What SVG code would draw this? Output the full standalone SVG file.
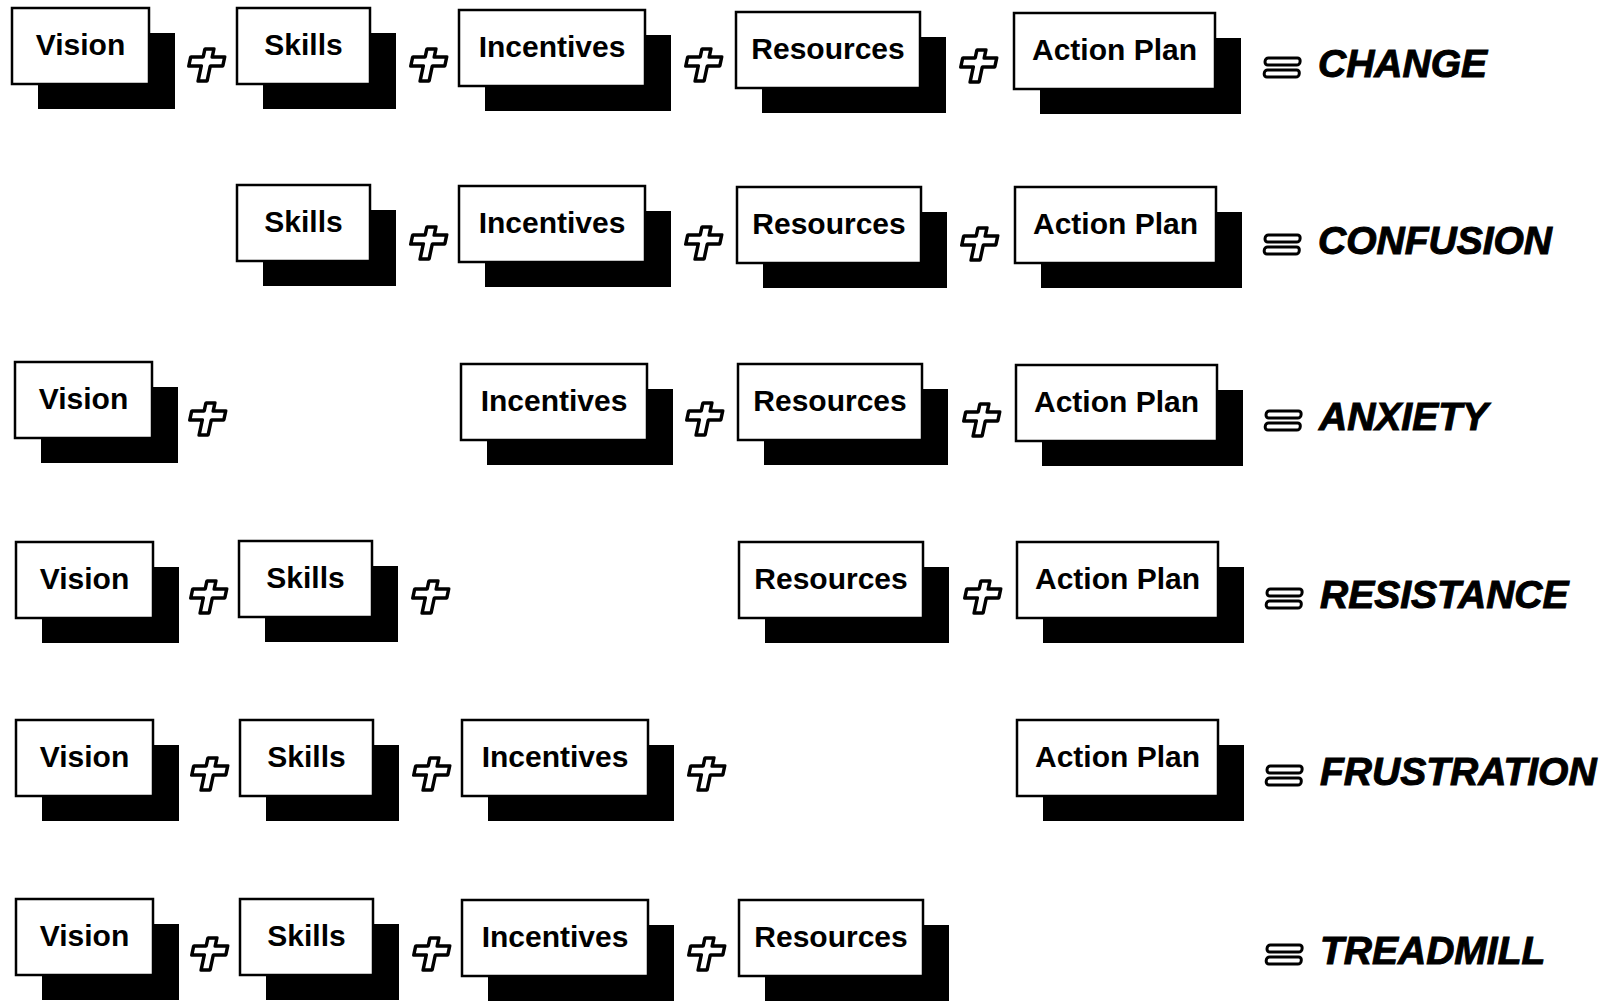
<svg xmlns="http://www.w3.org/2000/svg" width="1614" height="1002" viewBox="0 0 1614 1002">
<style>
.bg{fill:#fff}
.shadow{fill:#000}
.box{fill:#fff;stroke:#000;stroke-width:2.5}
.lbl{font-family:"Liberation Sans",Arial,sans-serif;font-weight:bold;font-size:30px;fill:#000;text-anchor:middle}
.res{font-family:"Liberation Sans",Arial,sans-serif;font-weight:bold;font-style:italic;font-size:39px;fill:#000;stroke:#000;stroke-width:1}
.op{fill:#fff;stroke:#000;stroke-width:3.5;stroke-linejoin:round}
.eq{fill:#fff;stroke:#000;stroke-width:3}
</style>
<defs>
<path id="plus" class="op" transform="skewX(-12)" d="M -4.5 -16 H 4.5 V -8 H 17 V 1 H 4.5 V 16 H -4.5 V 1 H -17 V -8 H -4.5 Z"/>
<g id="equals" transform="skewX(-4)">
<rect class="eq" x="0" y="-19" width="35" height="7" rx="3"/>
<rect class="eq" x="0" y="-7" width="35" height="7" rx="3"/>
</g>
</defs>
<rect class="bg" width="1614" height="1002"/>

<!-- Row 1 -->
<g id="r1-vision" transform="translate(12,8)"><rect class="shadow" x="26" y="25" width="137" height="76"/><rect class="box" width="137" height="76"/><text class="lbl" x="68.5" y="47">Vision</text></g>
<g id="r1-skills" transform="translate(237,8)"><rect class="shadow" x="26" y="25" width="133" height="76"/><rect class="box" width="133" height="76"/><text class="lbl" x="66.5" y="47">Skills</text></g>
<g id="r1-incentives" transform="translate(459,10)"><rect class="shadow" x="26" y="25" width="186" height="76"/><rect class="box" width="186" height="76"/><text class="lbl" x="93" y="47">Incentives</text></g>
<g id="r1-resources" transform="translate(736,12)"><rect class="shadow" x="26" y="25" width="184" height="76"/><rect class="box" width="184" height="76"/><text class="lbl" x="92" y="47">Resources</text></g>
<g id="r1-action" transform="translate(1014,13)"><rect class="shadow" x="26" y="25" width="201" height="76"/><rect class="box" width="201" height="76"/><text class="lbl" x="100.5" y="47">Action Plan</text></g>
<g id="r1-result"><use href="#equals" x="1264" y="77"/><text class="res" x="1318" y="77">CHANGE</text></g>

<!-- Row 2 -->
<g id="r2-skills" transform="translate(237,185)"><rect class="shadow" x="26" y="25" width="133" height="76"/><rect class="box" width="133" height="76"/><text class="lbl" x="66.5" y="47">Skills</text></g>
<g id="r2-incentives" transform="translate(459,186)"><rect class="shadow" x="26" y="25" width="186" height="76"/><rect class="box" width="186" height="76"/><text class="lbl" x="93" y="47">Incentives</text></g>
<g id="r2-resources" transform="translate(737,187)"><rect class="shadow" x="26" y="25" width="184" height="76"/><rect class="box" width="184" height="76"/><text class="lbl" x="92" y="47">Resources</text></g>
<g id="r2-action" transform="translate(1015,187)"><rect class="shadow" x="26" y="25" width="201" height="76"/><rect class="box" width="201" height="76"/><text class="lbl" x="100.5" y="47">Action Plan</text></g>
<g id="r2-result"><use href="#equals" x="1264" y="254"/><text class="res" x="1318" y="254">CONFUSION</text></g>

<!-- Row 3 -->
<g id="r3-vision" transform="translate(15,362)"><rect class="shadow" x="26" y="25" width="137" height="76"/><rect class="box" width="137" height="76"/><text class="lbl" x="68.5" y="47">Vision</text></g>
<g id="r3-incentives" transform="translate(461,364)"><rect class="shadow" x="26" y="25" width="186" height="76"/><rect class="box" width="186" height="76"/><text class="lbl" x="93" y="47">Incentives</text></g>
<g id="r3-resources" transform="translate(738,364)"><rect class="shadow" x="26" y="25" width="184" height="76"/><rect class="box" width="184" height="76"/><text class="lbl" x="92" y="47">Resources</text></g>
<g id="r3-action" transform="translate(1016,365)"><rect class="shadow" x="26" y="25" width="201" height="76"/><rect class="box" width="201" height="76"/><text class="lbl" x="100.5" y="47">Action Plan</text></g>
<g id="r3-result"><use href="#equals" x="1265" y="430"/><text class="res" x="1319" y="430">ANXIETY</text></g>

<!-- Row 4 -->
<g id="r4-vision" transform="translate(16,542)"><rect class="shadow" x="26" y="25" width="137" height="76"/><rect class="box" width="137" height="76"/><text class="lbl" x="68.5" y="47">Vision</text></g>
<g id="r4-skills" transform="translate(239,541)"><rect class="shadow" x="26" y="25" width="133" height="76"/><rect class="box" width="133" height="76"/><text class="lbl" x="66.5" y="47">Skills</text></g>
<g id="r4-resources" transform="translate(739,542)"><rect class="shadow" x="26" y="25" width="184" height="76"/><rect class="box" width="184" height="76"/><text class="lbl" x="92" y="47">Resources</text></g>
<g id="r4-action" transform="translate(1017,542)"><rect class="shadow" x="26" y="25" width="201" height="76"/><rect class="box" width="201" height="76"/><text class="lbl" x="100.5" y="47">Action Plan</text></g>
<g id="r4-result"><use href="#equals" x="1266" y="608"/><text class="res" x="1320" y="608">RESISTANCE</text></g>

<!-- Row 5 -->
<g id="r5-vision" transform="translate(16,720)"><rect class="shadow" x="26" y="25" width="137" height="76"/><rect class="box" width="137" height="76"/><text class="lbl" x="68.5" y="47">Vision</text></g>
<g id="r5-skills" transform="translate(240,720)"><rect class="shadow" x="26" y="25" width="133" height="76"/><rect class="box" width="133" height="76"/><text class="lbl" x="66.5" y="47">Skills</text></g>
<g id="r5-incentives" transform="translate(462,720)"><rect class="shadow" x="26" y="25" width="186" height="76"/><rect class="box" width="186" height="76"/><text class="lbl" x="93" y="47">Incentives</text></g>
<g id="r5-action" transform="translate(1017,720)"><rect class="shadow" x="26" y="25" width="201" height="76"/><rect class="box" width="201" height="76"/><text class="lbl" x="100.5" y="47">Action Plan</text></g>
<g id="r5-result"><use href="#equals" x="1266" y="785"/><text class="res" x="1320" y="785">FRUSTRATION</text></g>

<!-- Row 6 -->
<g id="r6-vision" transform="translate(16,899)"><rect class="shadow" x="26" y="25" width="137" height="76"/><rect class="box" width="137" height="76"/><text class="lbl" x="68.5" y="47">Vision</text></g>
<g id="r6-skills" transform="translate(240,899)"><rect class="shadow" x="26" y="25" width="133" height="76"/><rect class="box" width="133" height="76"/><text class="lbl" x="66.5" y="47">Skills</text></g>
<g id="r6-incentives" transform="translate(462,900)"><rect class="shadow" x="26" y="25" width="186" height="76"/><rect class="box" width="186" height="76"/><text class="lbl" x="93" y="47">Incentives</text></g>
<g id="r6-resources" transform="translate(739,900)"><rect class="shadow" x="26" y="25" width="184" height="76"/><rect class="box" width="184" height="76"/><text class="lbl" x="92" y="47">Resources</text></g>
<g id="r6-result"><use href="#equals" x="1266" y="964"/><text class="res" x="1320" y="964">TREADMILL</text></g>

<!-- Operators (connectors) -->
<g id="connectors">
<use href="#plus" x="206" y="65"/>
<use href="#plus" x="428" y="65"/>
<use href="#plus" x="703" y="65"/>
<use href="#plus" x="978" y="66"/>

<use href="#plus" x="428" y="243"/>
<use href="#plus" x="703" y="243"/>
<use href="#plus" x="979" y="244"/>

<use href="#plus" x="207" y="419"/>
<use href="#plus" x="704" y="419"/>
<use href="#plus" x="981" y="420"/>

<use href="#plus" x="208" y="597"/>
<use href="#plus" x="430" y="597"/>
<use href="#plus" x="982" y="597"/>

<use href="#plus" x="209" y="774"/>
<use href="#plus" x="431" y="774"/>
<use href="#plus" x="706" y="774"/>

<use href="#plus" x="209" y="954"/>
<use href="#plus" x="431" y="954"/>
<use href="#plus" x="706" y="954"/>
</g>
</svg>
